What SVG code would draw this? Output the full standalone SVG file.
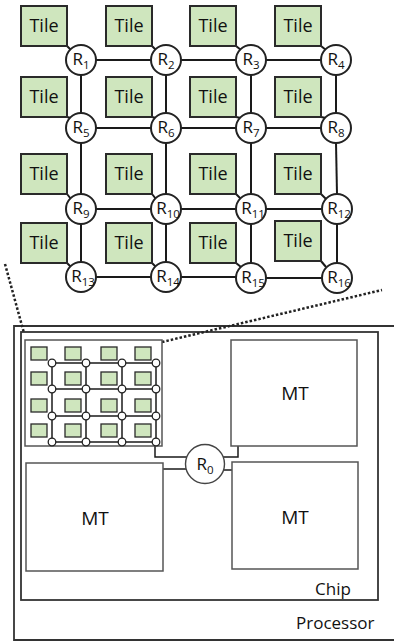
<svg xmlns="http://www.w3.org/2000/svg" width="394" height="643" viewBox="0 0 394 643">
<style>
.tile{fill:#cfe6be;stroke:#2a2a2a;stroke-width:2}
.tt{font-family:"Open Sans","Liberation Sans",sans-serif;font-size:18px;fill:#111;text-anchor:middle}
.rt{fill:#fff;stroke:#222;stroke-width:2}
.rl{font-family:"Open Sans","Liberation Sans",sans-serif;font-size:17px;fill:#111;text-anchor:middle}
.sub{font-size:11.5px}
.lk{stroke:#1a1a1a;stroke-width:2;fill:none}
.stile{fill:#cfe6be;stroke:#2a2a2a;stroke-width:1.3}
.sr{fill:#fff;stroke:#222;stroke-width:1.3}
.sl{stroke:#1a1a1a;stroke-width:1.5;fill:none}
.box{fill:#fff;stroke:#555;stroke-width:1.5}
.frame{fill:none;stroke:#333;stroke-width:1.8}
.mt{font-family:"Open Sans","Liberation Sans",sans-serif;font-size:19px;fill:#111;text-anchor:middle}
.lbl{font-family:"Open Sans","Liberation Sans",sans-serif;font-size:17px;fill:#111}
.dot{stroke:#222;stroke-width:2.5;stroke-dasharray:2.5 2;fill:none}
</style>
<rect width="394" height="643" fill="#fff"/>

<!-- Processor and chip frames -->
<g id="processor"><path class="frame" d="M400,326 H14 V640 H400"/><text class="lbl" x="296" y="629">Processor</text></g>
<g id="chip"><rect class="frame" x="21" y="332" width="357" height="268"/><text class="lbl" x="315" y="595">Chip</text></g>

<!-- zoom dotted lines -->
<g id="zoom-lines">
<line class="dot" x1="5" y1="264" x2="24" y2="333"/>
<line class="dot" x1="162" y1="342" x2="382" y2="290"/>
</g>

<!-- connectors of top mesh -->
<g id="connectors">
<g class="lk">
<line x1="96" y1="60" x2="151" y2="60"/><line x1="181" y1="60" x2="236" y2="60"/><line x1="266" y1="60" x2="321" y2="60"/>
<line x1="96" y1="128" x2="151" y2="128"/><line x1="181" y1="128" x2="236" y2="128"/><line x1="266" y1="128" x2="321" y2="128"/>
<line x1="96" y1="209" x2="151" y2="209"/><line x1="181" y1="209" x2="236" y2="209"/><line x1="266" y1="209" x2="322" y2="209"/>
<line x1="96" y1="277" x2="151" y2="277"/><line x1="181" y1="277" x2="236" y2="277"/><line x1="266" y1="278" x2="322" y2="278"/>
<line x1="81" y1="75" x2="81" y2="113"/><line x1="166" y1="75" x2="166" y2="113"/><line x1="251" y1="75" x2="251" y2="113"/><line x1="336" y1="75" x2="336" y2="113"/>
<line x1="81" y1="143" x2="81" y2="194"/><line x1="166" y1="143" x2="166" y2="194"/><line x1="251" y1="143" x2="251" y2="194"/><line x1="336" y1="143" x2="337" y2="194"/>
<line x1="81" y1="224" x2="81" y2="262"/><line x1="166" y1="224" x2="166" y2="262"/><line x1="251" y1="224" x2="251" y2="263"/><line x1="337" y1="224" x2="337" y2="263"/>
<!-- tile to router -->
<line x1="67" y1="46" x2="71" y2="50"/><line x1="152" y1="46" x2="156" y2="50"/><line x1="236" y1="46" x2="241" y2="50"/><line x1="321" y1="46" x2="326" y2="50"/>
<line x1="67" y1="117" x2="71" y2="118"/><line x1="152" y1="117" x2="156" y2="118"/><line x1="236" y1="117" x2="241" y2="118"/><line x1="321" y1="117" x2="326" y2="118"/>
<line x1="67" y1="194" x2="71" y2="199"/><line x1="152" y1="194" x2="156" y2="199"/><line x1="236" y1="194" x2="241" y2="199"/><line x1="321" y1="194" x2="326" y2="199"/>
<line x1="67" y1="263" x2="71" y2="267"/><line x1="152" y1="263" x2="156" y2="267"/><line x1="236" y1="263" x2="241" y2="267"/><line x1="321" y1="261" x2="326" y2="267"/>
</g>
<!-- R0 connectors -->
<g class="sl" stroke-width="1.4">
<path d="M155,446 V457 H187"/>
<path d="M223,457 H238 V446"/>
<line x1="163" y1="469" x2="186" y2="469"/>
<line x1="224" y1="470" x2="232" y2="470"/>
</g>
</g>

<!-- top tiles -->
<g id="tiles">
<g id="tile1"><rect class="tile" x="21" y="6" width="46" height="40"/><text class="tt" x="44" y="32">Tile</text></g>
<g id="tile2"><rect class="tile" x="106" y="6" width="46" height="40"/><text class="tt" x="129" y="32">Tile</text></g>
<g id="tile3"><rect class="tile" x="190" y="6" width="46" height="40"/><text class="tt" x="213" y="32">Tile</text></g>
<g id="tile4"><rect class="tile" x="275" y="6" width="46" height="40"/><text class="tt" x="298" y="32">Tile</text></g>
<g id="tile5"><rect class="tile" x="21" y="77" width="46" height="40"/><text class="tt" x="44" y="103">Tile</text></g>
<g id="tile6"><rect class="tile" x="106" y="77" width="46" height="40"/><text class="tt" x="129" y="103">Tile</text></g>
<g id="tile7"><rect class="tile" x="190" y="77" width="46" height="40"/><text class="tt" x="213" y="103">Tile</text></g>
<g id="tile8"><rect class="tile" x="275" y="77" width="46" height="40"/><text class="tt" x="298" y="103">Tile</text></g>
<g id="tile9"><rect class="tile" x="21" y="154" width="46" height="40"/><text class="tt" x="44" y="180">Tile</text></g>
<g id="tile10"><rect class="tile" x="106" y="154" width="46" height="40"/><text class="tt" x="129" y="180">Tile</text></g>
<g id="tile11"><rect class="tile" x="190" y="154" width="46" height="40"/><text class="tt" x="213" y="180">Tile</text></g>
<g id="tile12"><rect class="tile" x="275" y="154" width="46" height="40"/><text class="tt" x="298" y="180">Tile</text></g>
<g id="tile13"><rect class="tile" x="21" y="223" width="46" height="40"/><text class="tt" x="44" y="249">Tile</text></g>
<g id="tile14"><rect class="tile" x="106" y="223" width="46" height="40"/><text class="tt" x="129" y="249">Tile</text></g>
<g id="tile15"><rect class="tile" x="190" y="223" width="46" height="40"/><text class="tt" x="213" y="249">Tile</text></g>
<g id="tile16"><rect class="tile" x="275" y="221" width="46" height="40"/><text class="tt" x="298" y="247">Tile</text></g>
</g>

<!-- top routers -->
<g id="routers">
<g id="R1"><circle class="rt" cx="81" cy="60" r="15"/><text class="rl" x="81" y="65">R<tspan class="sub" dy="4">1</tspan></text></g>
<g id="R2"><circle class="rt" cx="166" cy="60" r="15"/><text class="rl" x="166" y="65">R<tspan class="sub" dy="4">2</tspan></text></g>
<g id="R3"><circle class="rt" cx="251" cy="60" r="15"/><text class="rl" x="251" y="65">R<tspan class="sub" dy="4">3</tspan></text></g>
<g id="R4"><circle class="rt" cx="336" cy="60" r="15"/><text class="rl" x="336" y="65">R<tspan class="sub" dy="4">4</tspan></text></g>
<g id="R5"><circle class="rt" cx="81" cy="128" r="15"/><text class="rl" x="81" y="133">R<tspan class="sub" dy="4">5</tspan></text></g>
<g id="R6"><circle class="rt" cx="166" cy="128" r="15"/><text class="rl" x="166" y="133">R<tspan class="sub" dy="4">6</tspan></text></g>
<g id="R7"><circle class="rt" cx="251" cy="128" r="15"/><text class="rl" x="251" y="133">R<tspan class="sub" dy="4">7</tspan></text></g>
<g id="R8"><circle class="rt" cx="336" cy="128" r="15"/><text class="rl" x="336" y="133">R<tspan class="sub" dy="4">8</tspan></text></g>
<g id="R9"><circle class="rt" cx="81" cy="209" r="15"/><text class="rl" x="81" y="214">R<tspan class="sub" dy="4">9</tspan></text></g>
<g id="R10"><circle class="rt" cx="166" cy="209" r="15"/><text class="rl" x="168" y="214">R<tspan class="sub" dy="4">10</tspan></text></g>
<g id="R11"><circle class="rt" cx="251" cy="209" r="15"/><text class="rl" x="253" y="214">R<tspan class="sub" dy="4">11</tspan></text></g>
<g id="R12"><circle class="rt" cx="337" cy="209" r="15"/><text class="rl" x="339" y="214">R<tspan class="sub" dy="4">12</tspan></text></g>
<g id="R13"><circle class="rt" cx="81" cy="277" r="15"/><text class="rl" x="83" y="282">R<tspan class="sub" dy="4">13</tspan></text></g>
<g id="R14"><circle class="rt" cx="166" cy="277" r="15"/><text class="rl" x="168" y="282">R<tspan class="sub" dy="4">14</tspan></text></g>
<g id="R15"><circle class="rt" cx="251" cy="278" r="15"/><text class="rl" x="253" y="283">R<tspan class="sub" dy="4">15</tspan></text></g>
<g id="R16"><circle class="rt" cx="337" cy="278" r="15"/><text class="rl" x="339" y="283">R<tspan class="sub" dy="4">16</tspan></text></g>
</g>

<!-- small mesh on chip -->
<g id="mesh-small">
<rect class="box" x="25" y="340" width="137" height="106" stroke="#444"/>
<g class="sl">
<line x1="52" y1="363" x2="156" y2="363"/><line x1="52" y1="389" x2="156" y2="389"/><line x1="52" y1="416" x2="156" y2="416"/><line x1="52" y1="442" x2="156" y2="442"/>
<line x1="52" y1="363" x2="52" y2="442"/><line x1="86" y1="363" x2="86" y2="442"/><line x1="122" y1="363" x2="122" y2="442"/><line x1="156" y1="363" x2="156" y2="442"/>
</g>
<g>
<rect class="stile" x="31" y="347" width="16" height="13"/><rect class="stile" x="65" y="347" width="16" height="13"/><rect class="stile" x="101" y="347" width="16" height="13"/><rect class="stile" x="135" y="347" width="16" height="13"/>
<rect class="stile" x="31" y="372" width="16" height="13"/><rect class="stile" x="65" y="372" width="16" height="13"/><rect class="stile" x="101" y="372" width="16" height="13"/><rect class="stile" x="135" y="372" width="16" height="13"/>
<rect class="stile" x="31" y="399" width="16" height="13"/><rect class="stile" x="65" y="399" width="16" height="13"/><rect class="stile" x="101" y="399" width="16" height="13"/><rect class="stile" x="135" y="399" width="16" height="13"/>
<rect class="stile" x="31" y="424" width="16" height="13"/><rect class="stile" x="65" y="424" width="16" height="13"/><rect class="stile" x="101" y="424" width="16" height="13"/><rect class="stile" x="135" y="424" width="16" height="13"/>
</g>
<g>
<circle class="sr" cx="52" cy="363" r="3.8"/><circle class="sr" cx="86" cy="363" r="3.8"/><circle class="sr" cx="122" cy="363" r="3.8"/><circle class="sr" cx="156" cy="363" r="3.8"/>
<circle class="sr" cx="52" cy="389" r="3.8"/><circle class="sr" cx="86" cy="389" r="3.8"/><circle class="sr" cx="122" cy="389" r="3.8"/><circle class="sr" cx="156" cy="389" r="3.8"/>
<circle class="sr" cx="52" cy="416" r="3.8"/><circle class="sr" cx="86" cy="416" r="3.8"/><circle class="sr" cx="122" cy="416" r="3.8"/><circle class="sr" cx="156" cy="416" r="3.8"/>
<circle class="sr" cx="52" cy="442" r="3.8"/><circle class="sr" cx="86" cy="442" r="3.8"/><circle class="sr" cx="122" cy="442" r="3.8"/><circle class="sr" cx="156" cy="442" r="3.8"/>
</g>
</g>

<g id="MT1"><rect class="box" x="231" y="340" width="126" height="106"/><text class="mt" x="295" y="400">MT</text></g>
<g id="MT2"><rect class="box" x="26" y="463" width="137" height="108"/><text class="mt" x="95" y="525">MT</text></g>
<g id="MT3"><rect class="box" x="232" y="462" width="126" height="107"/><text class="mt" x="295" y="524">MT</text></g>
<g id="R0"><circle cx="205" cy="464" r="19.5" fill="#fff" stroke="#444" stroke-width="1.4"/><text class="rl" x="205" y="470">R<tspan class="sub" dy="4">0</tspan></text></g>
</svg>
